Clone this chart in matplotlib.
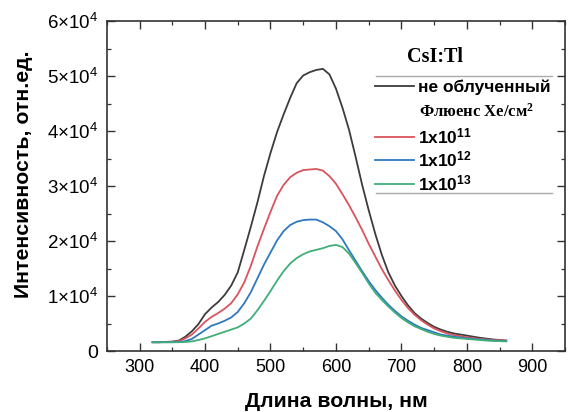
import matplotlib
matplotlib.use("Agg")
import matplotlib.pyplot as plt
from matplotlib.lines import Line2D
from matplotlib.ticker import MultipleLocator

plt.rcParams['font.family'] = ['Liberation Sans', 'DejaVu Sans']
plt.rcParams['mathtext.default'] = 'regular'

wavelength = [320, 330, 340, 350, 360, 370, 380, 390, 400, 410, 420, 430, 440, 450, 460,
              470, 480, 490, 500, 510, 520, 530, 540, 550, 560, 570, 580, 590, 600, 610,
              620, 630, 640, 650, 660, 670, 680, 690, 700, 710, 720, 730, 740, 750, 760,
              770, 780, 790, 800, 810, 820, 830, 840, 850, 860]

unirradiated = [1600, 1600, 1650, 1700, 1900, 2600, 3600, 4900, 6700, 7900, 8900, 10200,
                11900, 14300, 18400, 22600, 27000, 31800, 36000, 39800, 43000, 46000, 48700,
                50100, 50700, 51100, 51300, 50300, 47700, 44200, 40200, 35300, 30200, 25600,
                21300, 17500, 14300, 11900, 10000, 8300, 6900, 5900, 5100, 4400, 3900,
                3500, 3200, 3000, 2800, 2600, 2400, 2250, 2100, 2000, 1900]

fluence_1e11 = [1600, 1600, 1650, 1700, 1800, 2300, 3000, 4100, 5300, 6200, 6900, 7700,
                8700, 10300, 12500, 15500, 19000, 22200, 25300, 28200, 30200, 31600, 32400,
                32900, 33000, 33100, 32800, 31800, 30400, 28500, 26500, 24300, 22000, 19500,
                17200, 14900, 12900, 11000, 9300, 7800, 6600, 5600, 4800, 4100, 3600,
                3200, 2900, 2700, 2500, 2350, 2200, 2100, 2000, 1950, 1900]

fluence_1e12 = [1600, 1600, 1600, 1600, 1650, 1800, 2200, 3000, 3800, 4600, 5000, 5500,
                6100, 7100, 8700, 10700, 13200, 15700, 17900, 20100, 21800, 22900, 23500,
                23800, 23900, 23900, 23400, 22700, 21800, 20300, 18300, 16400, 14500, 12700,
                11100, 9700, 8400, 7300, 6300, 5500, 4800, 4200, 3800, 3400, 3000,
                2800, 2600, 2450, 2300, 2200, 2100, 2000, 1900, 1850, 1800]

fluence_1e13 = [1600, 1600, 1600, 1600, 1600, 1650, 1750, 2000, 2300, 2700, 3100, 3500,
                3900, 4300, 5000, 5900, 7400, 9100, 10900, 12800, 14500, 15900, 16900,
                17600, 18100, 18400, 18700, 19100, 19300, 18900, 17700, 16000, 14200, 12300,
                10600, 9300, 8100, 7000, 6000, 5200, 4500, 4000, 3500, 3100, 2800,
                2600, 2400, 2300, 2200, 2100, 2000, 1900, 1850, 1800, 1750]

x_ticks = [300, 400, 500, 600, 700, 800, 900]
y_ticks = [0, 10000, 20000, 30000, 40000, 50000, 60000]
y_tick_labels = ['0', r'$1{\times}10^4$', r'$2{\times}10^4$', r'$3{\times}10^4$',
                 r'$4{\times}10^4$', r'$5{\times}10^4$', r'$6{\times}10^4$']

series_labels = ['не облученный', r'1x10$^{11}$', r'1x10$^{12}$', r'1x10$^{13}$']
colors = ['#3c3c3c', '#d9545c', '#2f78c0', '#3fae78']

fig = plt.figure(figsize=(5.68, 4.12), dpi=100)
ax = fig.add_axes([0.188, 0.148, 0.807, 0.801])

handles = []
for vals, c, lab in zip([unirradiated, fluence_1e11, fluence_1e12, fluence_1e13],
                        colors, series_labels):
    h, = ax.plot(wavelength, vals, color=c, lw=1.3, label=lab)
    handles.append(h)

ax.set_xlim(250, 950)
ax.set_ylim(0, 60000)
ax.set_xticks(x_ticks)
ax.set_yticks(y_ticks)
ax.set_yticklabels(y_tick_labels)
ax.xaxis.set_minor_locator(MultipleLocator(50))
ax.yaxis.set_minor_locator(MultipleLocator(5000))
ax.tick_params(which='both', direction='in', top=True, right=True, color='#333333')
ax.tick_params(which='major', length=6, width=1.0, labelsize=13, pad=6)
ax.tick_params(which='minor', length=3, width=0.9)
for lbl in ax.get_yticklabels():
    lbl.set_fontsize(13.5)
ax.get_yticklabels()[0].set_fontsize(14)
for s in ax.spines.values():
    s.set_linewidth(1.2)
    s.set_color('#333333')

ax.set_xlabel('Длина волны, нм', fontsize=15.3, fontweight='bold')
ax.set_ylabel('Интенсивность, отн.ед.', fontsize=15.3, fontweight='bold')
ax.xaxis.set_label_coords(0.5, -0.125)
ax.yaxis.set_label_coords(-0.162, 0.536)

# legend: first entry, a caption row, then the three fluence entries
leg_kw = dict(frameon=False, borderpad=0, borderaxespad=0, handlelength=2.25,
              handletextpad=0.25, prop={'size': 12.5, 'weight': 'bold'})
leg1 = ax.legend([handles[0]], [series_labels[0]], loc='center left',
                 bbox_to_anchor=(0.585, 0.799), **leg_kw)
ax.add_artist(leg1)
leg2 = ax.legend(handles[1:], series_labels[1:], loc='center left',
                 bbox_to_anchor=(0.585, 0.580), labelspacing=0.215, **leg_kw)

ax.text(0.681, 0.711, r'Флюенс Хе/см$^2$', transform=ax.transAxes, ha='left',
        va='baseline', fontsize=12, fontweight='bold',
        family=['Liberation Serif', 'DejaVu Serif'])
ax.text(0.716, 0.89, 'CsI:Tl', transform=ax.transAxes, ha='center', va='center',
        fontsize=14.5, fontweight='bold', family=['Liberation Serif', 'DejaVu Serif'])
for yy in (0.833, 0.479):
    ax.add_line(Line2D([0.587, 0.972], [yy, yy], transform=ax.transAxes,
                       color='#aaaaaa', lw=1.0))

fig.savefig('out.png', dpi=100)
